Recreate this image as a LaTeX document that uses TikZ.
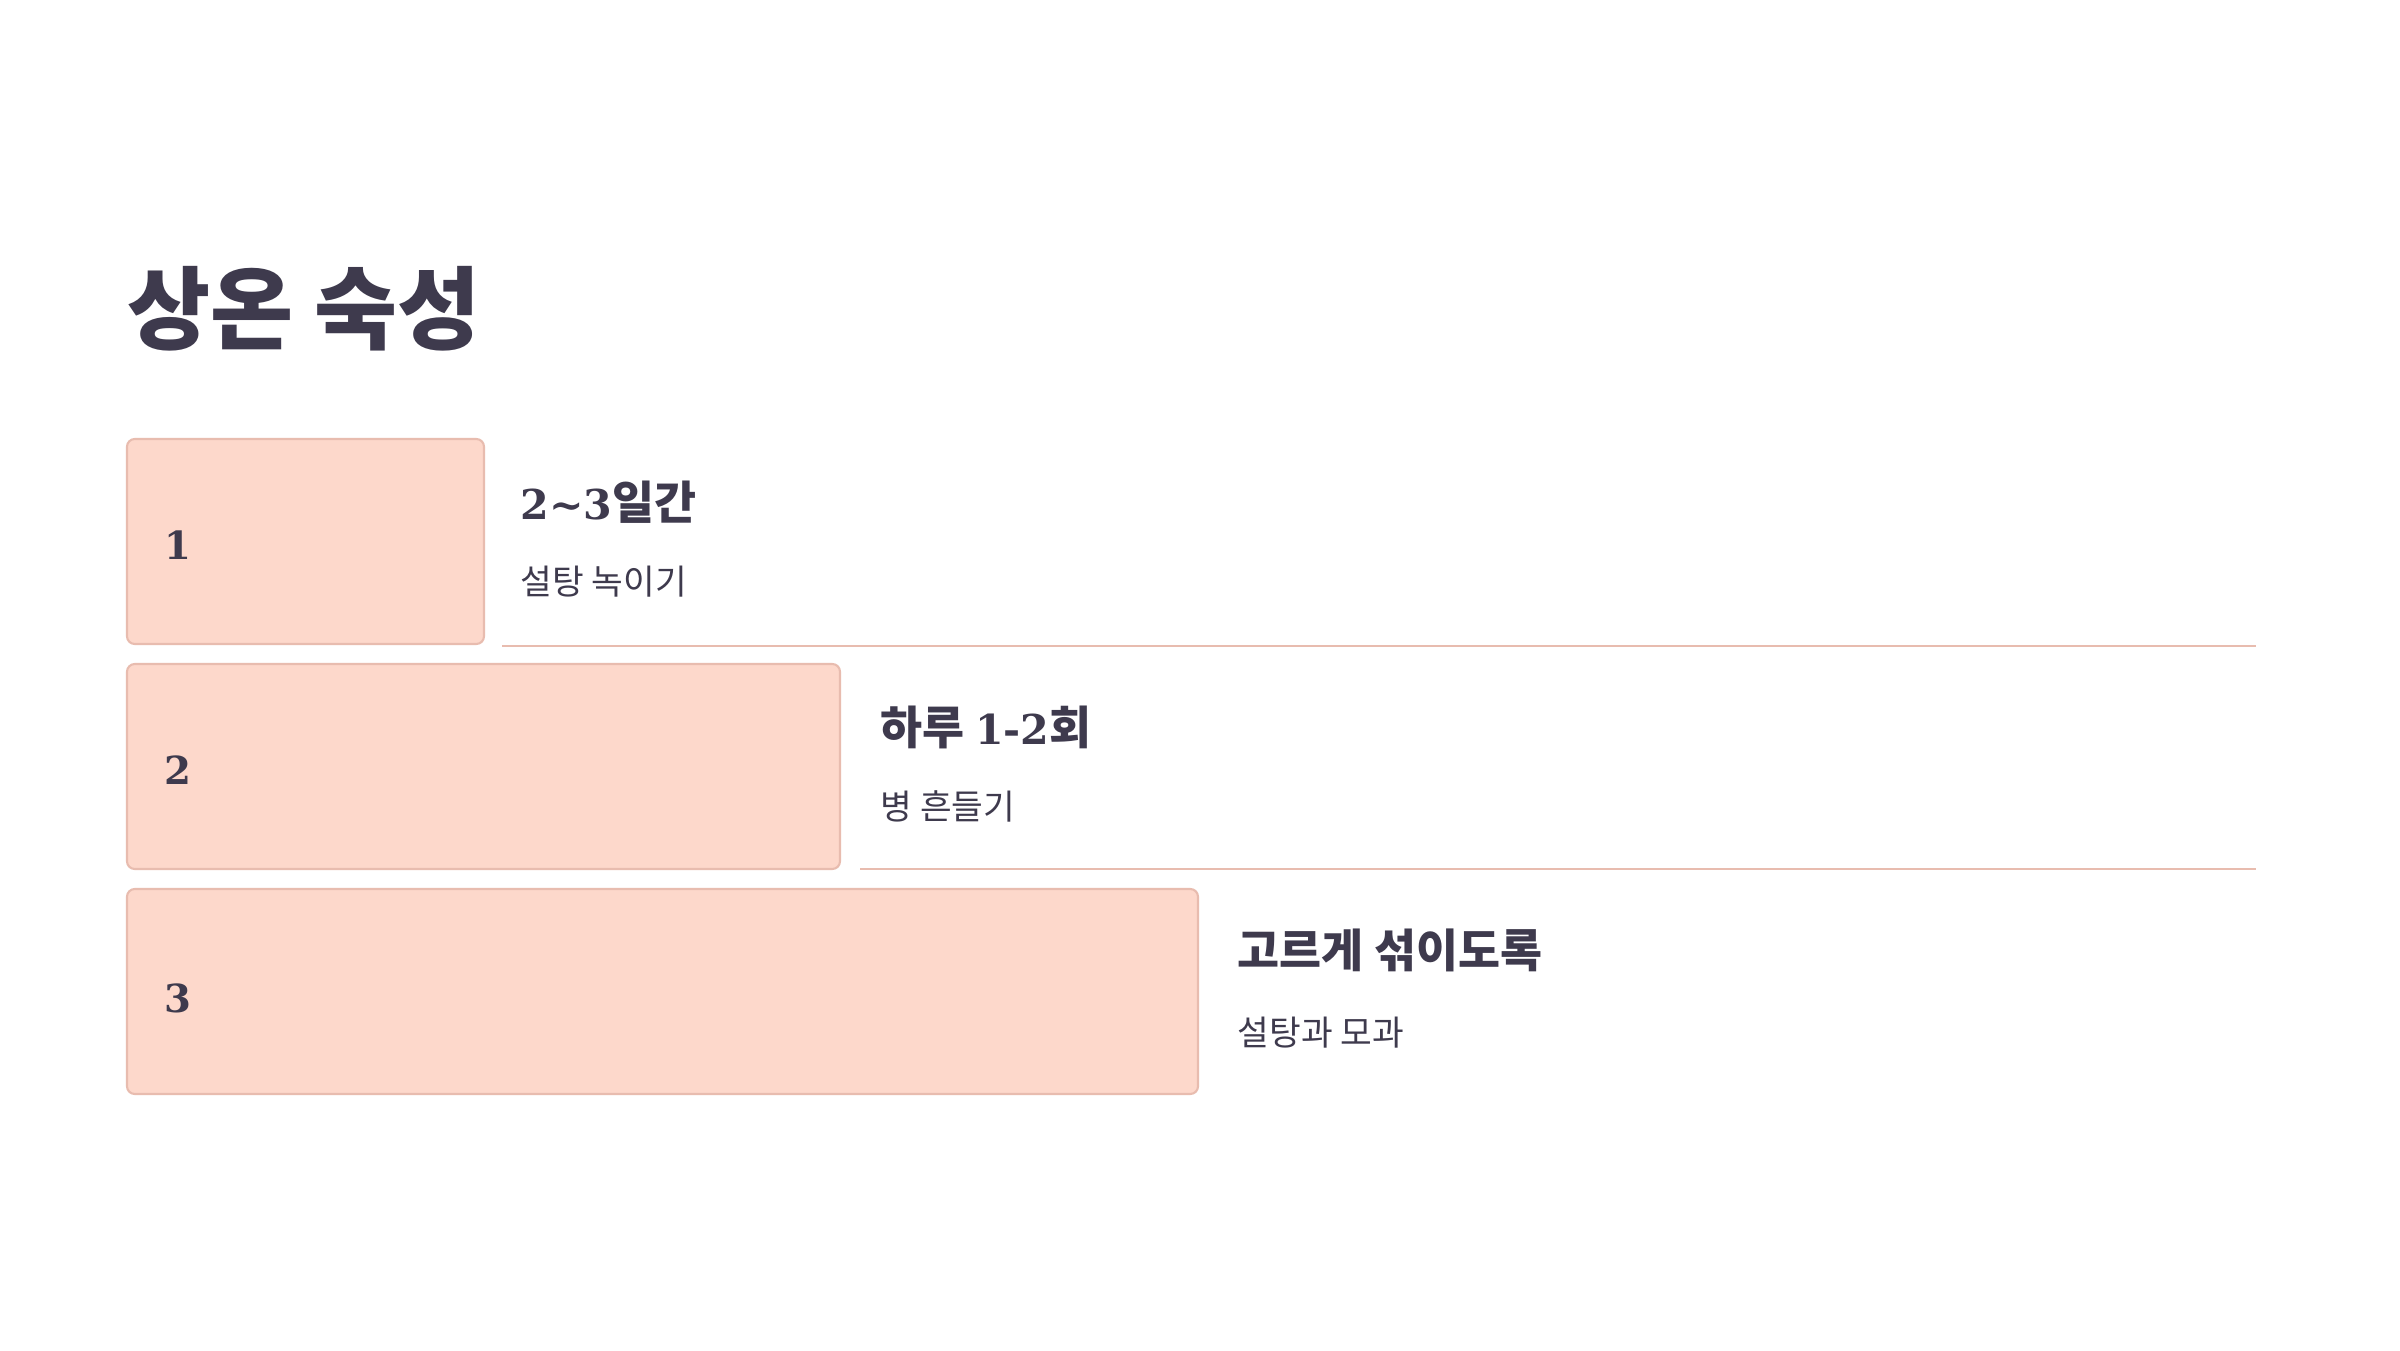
\documentclass[tikz,border=0pt]{standalone}
\usepackage{fontspec}
\newfontfamily\krfont{Noto Sans CJK KR}
\newfontfamily\numfont[Scale=0.9]{DejaVu Serif}
\newfontfamily\boxnumfont{DejaVu Serif}
\definecolor{ink}{HTML}{3E3A4D}
\definecolor{boxfill}{HTML}{FDD8CB}
\definecolor{boxline}{HTML}{E8BCAF}
\tikzset{
  stepbox/.style={draw=boxline, fill=boxfill, line width=0.6pt, rounded corners=2.2pt},
  rule/.style={draw=boxline, line width=0.6pt},
  numlbl/.style={anchor=base west, inner sep=0pt, text=ink, font=\boxnumfont\bfseries\fontsize{11}{13}\selectfont},
  headlbl/.style={anchor=base west, inner sep=0pt, text=ink, font=\krfont\bfseries\fontsize{13}{15}\selectfont},
  sublbl/.style={anchor=base west, inner sep=0pt, text=ink, font=\krfont\fontsize{9.8}{11}\selectfont},
  titlelbl/.style={anchor=base west, inner sep=0pt, text=ink, font=\krfont\bfseries\fontsize{25.7}{30}\selectfont},
}
\begin{document}
\begin{tikzpicture}
\useasboundingbox[fill=white] (0,0) rectangle (24,13.5);
\node[titlelbl] (title) at (1.27,10.07) {상온 숙성};

\path[stepbox] (1.27,7.06) rectangle (4.84,9.11);
\node[inner sep=0pt] (b1) at (3.055,8.085) {};
\path[stepbox] (1.27,4.81) rectangle (8.40,6.86);
\node[inner sep=0pt] (b2) at (4.835,5.835) {};
\path[stepbox] (1.27,2.56) rectangle (11.98,4.61);
\node[inner sep=0pt] (b3) at (6.625,3.585) {};

\node[numlbl] (n1) at (1.64,7.91) {1};
\node[numlbl] (n2) at (1.64,5.66) {2};
\node[numlbl] (n3) at (1.64,3.38) {3};

\node[headlbl] (h1) at (5.20,8.31) {{\numfont 2\char"007E 3}일간};
\node[sublbl] (s1) at (5.20,7.56) {설탕 녹이기};
\node[headlbl] (h2) at (8.80,6.06) {하루 {\numfont 1-2}회};
\node[sublbl] (s2) at (8.80,5.31) {병 흔들기};
\node[headlbl] (h3) at (12.37,3.83) {고르게 섞이도록};
\node[sublbl] (s3) at (12.37,3.05) {설탕과 모과};

\coordinate (r1a) at (5.02,7.04);
\coordinate (r1b) at (22.56,7.04);
\coordinate (r2a) at (8.60,4.81);
\coordinate (r2b) at (22.56,4.81);
\draw[rule] (r1a) -- (r1b);
\draw[rule] (r2a) -- (r2b);
\end{tikzpicture}
\end{document}
